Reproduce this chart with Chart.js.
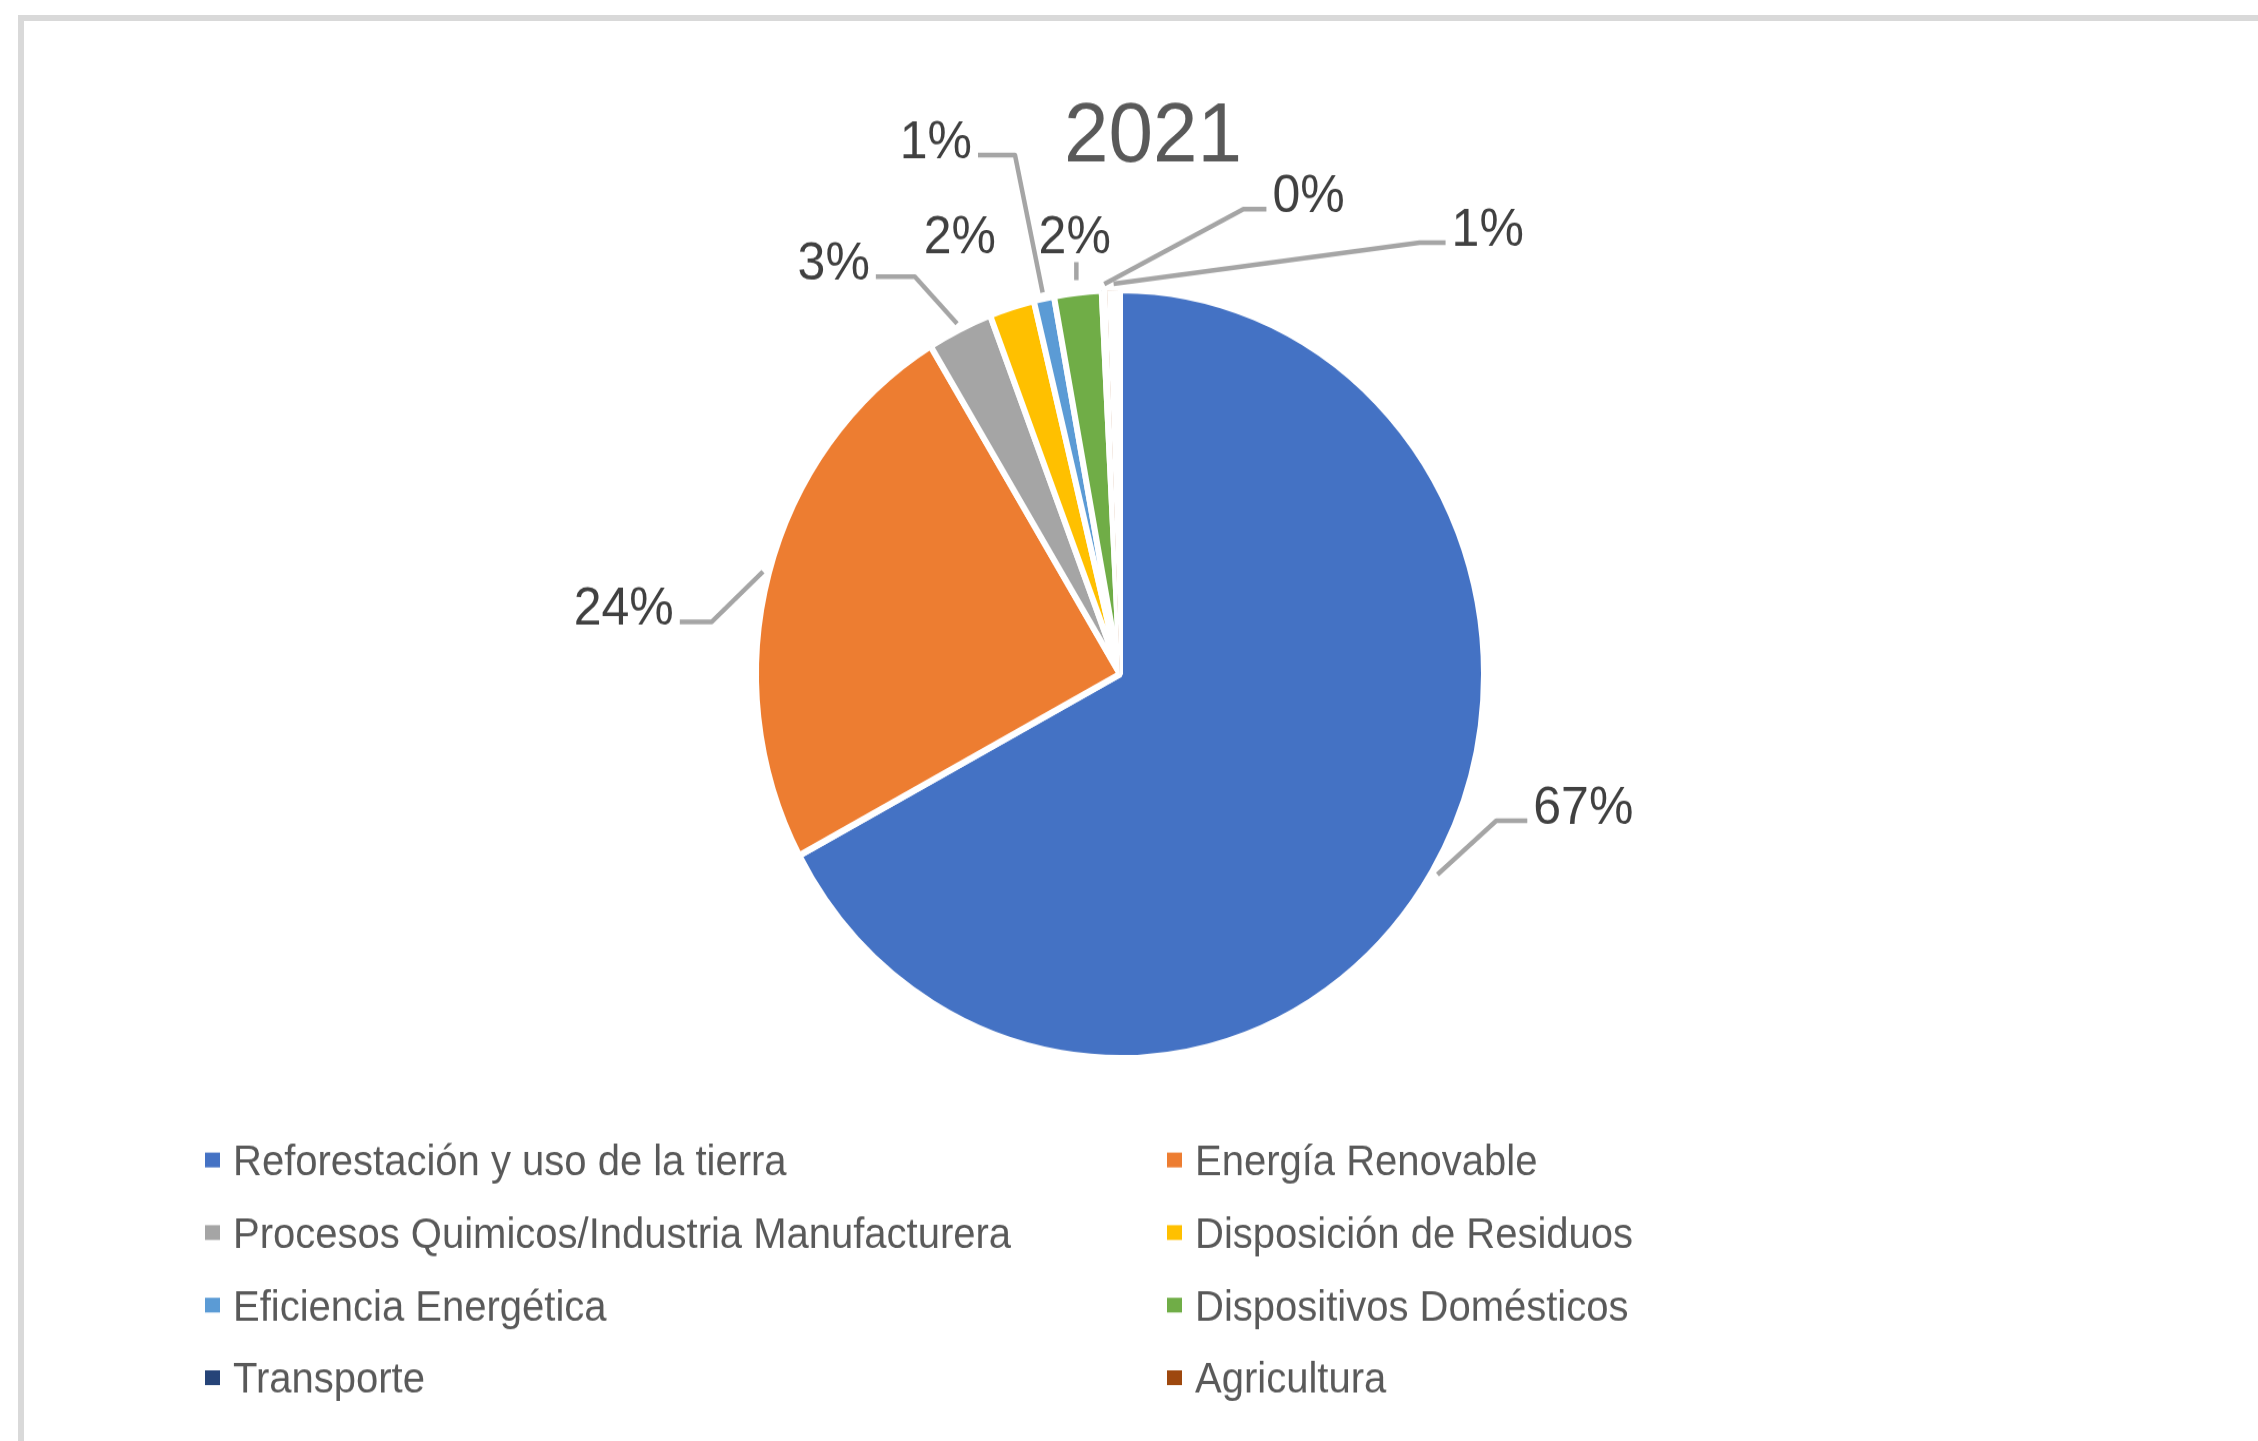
<!DOCTYPE html>
<html>
<head>
<meta charset="utf-8">
<script src="https://cdn.jsdelivr.net/npm/chart.js@4.4.1/dist/chart.umd.min.js"></script>
<style>
html,body{margin:0;padding:0;background:#ffffff;overflow:hidden;width:2258px;height:1441px;}
#frame{position:absolute;left:18px;top:15px;width:2400px;height:1600px;border:6px solid #d9d9d9;box-sizing:border-box;}
#wrap{position:absolute;left:0;top:0;width:2258px;height:1366px;transform:scale(1,1.0549);transform-origin:0 0;}
#c{width:2258px;height:1366px;display:block;}
</style>
</head>
<body>
<div id="frame"></div>
<div id="wrap"><canvas id="c" width="2258" height="1366"></canvas></div>
<script>
// ---- data ----
const chartTitle = '2021';
const categories = [
  'Reforestación y uso de la tierra',
  'Energía Renovable',
  'Procesos Quimicos/Industria Manufacturera',
  'Disposición de Residuos',
  'Eficiencia Energética',
  'Dispositivos Domésticos',
  'Transporte',
  'Agricultura'
];
const shares2021 = [67.1, 24.1, 2.9, 2.0, 0.9, 2.1, 0.25, 0.55];
const sliceColors = ['#4472C4', '#ED7D31', '#A5A5A5', '#FFC000', '#5B9BD5', '#70AD47', '#264478', '#9E480E'];

// ---- slice outline styles (the tiny slices are swallowed by the white outline) ----
const sliceBorderWidths = [6, 6, 6, 6, 6, 6, 6, 8];
const sliceBorderAligns = ['center', 'center', 'center', 'center', 'center', 'center', 'center', 'inner'];

// ---- label placement (offsets from each slice's rim point) ----
const labelPlacement = [
  {dx: 151, dy: -63, leader: 'elbow', hlen: 31},
  {dx: -145, dy: 31, leader: 'elbow', hlen: 32},
  {dx: -126, dy: -65, leader: 'elbow', hlen: 39},
  {dx: -52, dy: -69, leader: 'none'},
  {dx: -108, dy: -151, leader: 'elbow', hlen: 37},
  {dx: -3, dy: -55, leader: 'straight'},
  {dx: 204, dy: -92, leader: 'elbow', hlen: 23},
  {dx: 374, dy: -60, leader: 'elbow', hlen: 26}
];

const FONT = '"Liberation Sans", Arial, sans-serif';

const overlay = {
  id: 'overlay',
  afterDraw(chart) {
    const ctx = chart.ctx;
    const meta = chart.getDatasetMeta(0);
    const vals = chart.data.datasets[0].data;
    const colors = chart.data.datasets[0].backgroundColor;
    const total = vals.reduce((a, b) => a + b, 0);
    ctx.save();

    // title
    ctx.fillStyle = '#595959';
    ctx.font = '80px ' + FONT;
    ctx.textAlign = 'center';
    ctx.textBaseline = 'alphabetic';
    ctx.fillText(chartTitle, 1153, 124 + 0.358 * 80);

    // data labels + leader lines
    ctx.font = '50px ' + FONT;
    ctx.strokeStyle = '#A5A5A5';
    ctx.lineWidth = 4.5;
    ctx.lineJoin = 'round';
    ctx.lineCap = 'butt';
    meta.data.forEach((arc, i) => {
      const p = labelPlacement[i];
      const mid = (arc.startAngle + arc.endAngle) / 2;
      const R = arc.outerRadius;
      const ax = arc.x + Math.cos(mid) * R;
      const ay = arc.y + Math.sin(mid) * R;
      const lx = ax + p.dx, ly = ay + p.dy;
      const txt = Math.round(vals[i] / total * 100) + '%';
      const w = ctx.measureText(txt).width;
      if (p.leader === 'elbow') {
        const sx = arc.x + Math.cos(mid) * (R + 6);
        const sy = arc.y + Math.sin(mid) * (R + 6);
        const right = p.dx > 0;
        const ey = ly + 15;
        const ex = right ? lx - w / 2 - 6 : lx + w / 2 + 6;
        const bx = right ? ex - p.hlen : ex + p.hlen;
        ctx.beginPath();
        ctx.moveTo(sx, sy);
        ctx.lineTo(bx, ey);
        ctx.lineTo(ex, ey);
        ctx.stroke();
      } else if (p.leader === 'straight') {
        const sx = arc.x + Math.cos(mid) * (R + 12);
        const sy = arc.y + Math.sin(mid) * (R + 12);
        ctx.beginPath();
        ctx.moveTo(sx, sy);
        ctx.lineTo(sx, ly + 26);
        ctx.stroke();
      }
      ctx.fillStyle = '#404040';
      ctx.textAlign = 'center';
      ctx.fillText(txt, lx, ly + 0.358 * 50);
    });

    // legend (two columns)
    const colX = [205, 1167];
    const rowY0 = 1099.6, rowH = 68.8;
    ctx.font = '40px ' + FONT;
    ctx.textAlign = 'left';
    chart.data.labels.forEach((lab, i) => {
      const col = i % 2, row = Math.floor(i / 2);
      const x = colX[col];
      const cy = rowY0 + row * rowH;
      ctx.fillStyle = colors[i];
      ctx.fillRect(x, cy - 7, 15, 14);
      ctx.fillStyle = '#595959';
      ctx.fillText(lab, x + 28, cy + 0.358 * 40);
    });
    ctx.restore();
  }
};

new Chart(document.getElementById('c'), {
  type: 'pie',
  data: {
    labels: categories,
    datasets: [{
      data: shares2021,
      backgroundColor: sliceColors,
      borderColor: '#ffffff',
      borderWidth: sliceBorderWidths,
      borderAlign: sliceBorderAligns
    }]
  },
  options: {
    responsive: false,
    animation: false,
    devicePixelRatio: 1,
    events: [],
    layout: {padding: {top: 272, bottom: 360, left: 753, right: 771}},
    plugins: {
      legend: {display: false},
      title: {display: false},
      tooltip: {enabled: false}
    }
  },
  plugins: [overlay]
});
</script>
</body>
</html>
